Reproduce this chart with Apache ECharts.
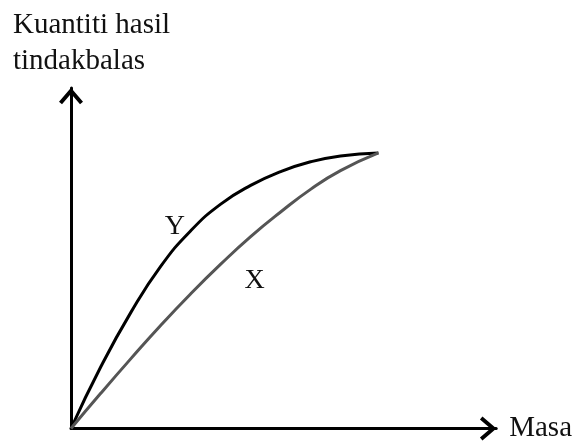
<!DOCTYPE html>
<html lang="ms">
<head>
    <meta charset="utf-8" />
    <title>Kuantiti hasil tindakbalas</title>
    <script src="https://cdn.jsdelivr.net/npm/echarts@6/dist/echarts.min.js"></script>
</head>
<body style="margin:0;background:#fff">
    <div id="box" style="height:443px;width:575px"></div>
    <script>
        // data kira-kira (unit sebarang)
        var masa = [0, 30, 60, 90, 120, 150, 180, 210, 240, 270, 308];
        var hasilY = [0, 63, 118, 165, 201, 228, 247, 261, 271, 277, 280];
        var hasilX = [0, 36, 71, 105, 137, 167, 195, 220, 243, 262, 280];
        var namaSiri = ['Y', 'X'];

        var fon = '"Liberation Serif", "DejaVu Serif", serif';
        // anak panah terbuka hujung paksi
        var panah = 'path://M0,14 L12,0 L24,14 L21,16.5 L12,6 L3,16.5 Z';

        function pasang(xs, ys) {
            var out = [];
            for (var i = 0; i < xs.length; i++) out.push([xs[i], ys[i]]);
            return out;
        }

        var dataY = pasang(masa, hasilY);
        dataY[4] = {value: dataY[4], label: {show: true, formatter: namaSiri[0], position: 'inside', offset: [-16, -4]}};
        var dataX = pasang(masa, hasilX);
        dataX[6] = {value: dataX[6], label: {show: true, formatter: namaSiri[1], position: 'inside', offset: [4, 44]}};

        var paksi = {
            type: 'value',
            min: 0,
            axisLine: {
                show: true,
                lineStyle: {color: '#000', width: 3},
                symbol: ['none', panah],
                symbolSize: [24, 17],
                symbolOffset: [0, -8]
            },
            axisTick: {show: false},
            axisLabel: {show: false},
            splitLine: {show: false}
        };

        var myChart = echarts.init(document.getElementById('box'));
        var option = {
            backgroundColor: '#fff',
            animation: false,
            title: {
                text: 'Kuantiti hasil\ntindakbalas',
                left: 8,
                top: 2,
                textStyle: {fontFamily: fon, fontSize: 29, fontWeight: 'normal', color: '#111', lineHeight: 36}
            },
            grid: {left: 71, right: 78, top: 88, bottom: 9},
            xAxis: Object.assign({}, paksi, {
                max: 426,
                name: 'Masa',
                nameLocation: 'end',
                nameGap: 13,
                nameTextStyle: {fontFamily: fon, fontSize: 29, color: '#111', verticalAlign: 'middle'}
            }),
            yAxis: Object.assign({}, paksi, {max: 346}),
            series: [
                {
                    name: namaSiri[0],
                    type: 'line',
                    smooth: 0.5,
                    symbol: 'circle',
                    symbolSize: 1,
                    showSymbol: true,
                    lineStyle: {color: '#000', width: 3},
                    itemStyle: {color: 'rgba(0,0,0,0)'},
                    label: {show: false, color: '#111', fontFamily: fon, fontSize: 28},
                    data: dataY
                },
                {
                    name: namaSiri[1],
                    type: 'line',
                    smooth: 0.5,
                    symbol: 'circle',
                    symbolSize: 1,
                    showSymbol: true,
                    lineStyle: {color: '#555', width: 3},
                    itemStyle: {color: 'rgba(0,0,0,0)'},
                    label: {show: false, color: '#111', fontFamily: fon, fontSize: 28},
                    data: dataX
                }
            ]
        };
        myChart.setOption(option);
    </script>
</body>
</html>
